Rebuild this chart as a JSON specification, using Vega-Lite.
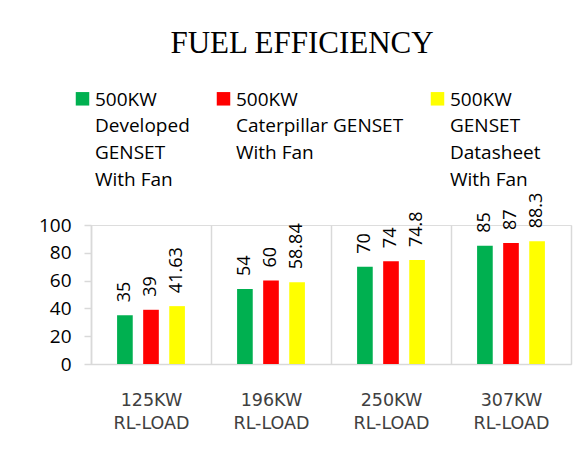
{
  "$schema": "https://vega.github.io/schema/vega-lite/v6.json",
  "width": 480,
  "height": 139,
  "autosize": {"type": "none"},
  "padding": {"left": 91, "top": 225, "right": 15, "bottom": 92},
  "background": "white",
  "title": {
    "text": "FUEL EFFICIENCY",
    "font": "Liberation Serif",
    "fontSize": 31,
    "fontWeight": "normal",
    "color": "#000000",
    "anchor": "middle",
    "frame": "group",
    "dx": -29,
    "offset": 36
  },
  "data": {
    "values": [
      {"load": "125KW RL-LOAD", "series": "500KW Developed GENSET With Fan", "value": 35, "label": "35"},
      {"load": "125KW RL-LOAD", "series": "500KW Caterpillar GENSET With Fan", "value": 39, "label": "39"},
      {"load": "125KW RL-LOAD", "series": "500KW GENSET Datasheet With Fan", "value": 41.63, "label": "41.63"},
      {"load": "196KW RL-LOAD", "series": "500KW Developed GENSET With Fan", "value": 54, "label": "54"},
      {"load": "196KW RL-LOAD", "series": "500KW Caterpillar GENSET With Fan", "value": 60, "label": "60"},
      {"load": "196KW RL-LOAD", "series": "500KW GENSET Datasheet With Fan", "value": 58.84, "label": "58.84"},
      {"load": "250KW RL-LOAD", "series": "500KW Developed GENSET With Fan", "value": 70, "label": "70"},
      {"load": "250KW RL-LOAD", "series": "500KW Caterpillar GENSET With Fan", "value": 74, "label": "74"},
      {"load": "250KW RL-LOAD", "series": "500KW GENSET Datasheet With Fan", "value": 74.8, "label": "74.8"},
      {"load": "307KW RL-LOAD", "series": "500KW Developed GENSET With Fan", "value": 85, "label": "85"},
      {"load": "307KW RL-LOAD", "series": "500KW Caterpillar GENSET With Fan", "value": 87, "label": "87"},
      {"load": "307KW RL-LOAD", "series": "500KW GENSET Datasheet With Fan", "value": 88.3, "label": "88.3"}
    ]
  },
  "encoding": {
    "x": {
      "field": "load",
      "type": "nominal",
      "sort": null,
      "scale": {"paddingInner": 0, "paddingOuter": 0},
      "axis": {
        "title": null,
        "labelAngle": 0,
        "labelExpr": "split(datum.label, ' ')",
        "labelFont": "DejaVu Sans",
        "labelFontSize": 17.5,
        "labelColor": "#404040",
        "labelLineHeight": 23,
        "labelPadding": 27,
        "labelBaseline": "top",
        "ticks": false,
        "tickBand": "extent",
        "grid": true,
        "gridColor": "#d9d9d9",
        "gridWidth": 1.5,
        "domainColor": "#d9d9d9",
        "domainWidth": 1.5
      }
    },
    "xOffset": {
      "field": "series",
      "type": "nominal",
      "sort": null,
      "scale": {"paddingInner": 0.4, "paddingOuter": 1.15}
    },
    "y": {
      "field": "value",
      "type": "quantitative",
      "scale": {"domain": [0, 100], "nice": false},
      "axis": {
        "title": null,
        "values": [0, 20, 40, 60, 80, 100],
        "grid": false,
        "labelFont": "Open Sans",
        "labelFontSize": 19,
        "labelColor": "#000000",
        "labelPadding": 13,
        "tickSize": 7,
        "tickColor": "#d9d9d9",
        "tickWidth": 1.5,
        "domainColor": "#d9d9d9",
        "domainWidth": 1.5
      }
    }
  },
  "layer": [
    {
      "mark": {"type": "bar"},
      "encoding": {
        "color": {
          "field": "series",
          "type": "nominal",
          "sort": null,
          "scale": {
            "domain": ["500KW Developed GENSET With Fan", "500KW Caterpillar GENSET With Fan", "500KW GENSET Datasheet With Fan"],
            "range": ["#00B050", "#FF0000", "#FFFF00"]
          },
          "legend": {
            "title": null,
            "orient": "none",
            "legendX": -18,
            "legendY": -129,
            "direction": "horizontal",
            "columns": 3,
            "columnPadding": 24,
            "padding": 0,
            "symbolType": "M-1,-2H1V0H-1Z",
            "symbolSize": 182,
            "symbolStrokeWidth": 0,
            "labelFont": "Open Sans",
            "labelFontSize": 19,
            "labelColor": "#000000",
            "labelBaseline": "alphabetic",
            "labelOffset": 3,
            "labelLimit": 400,
            "labelExpr": "datum.label === '500KW Developed GENSET With Fan' ? ['500KW', 'Developed', 'GENSET', 'With Fan'] : datum.label === '500KW Caterpillar GENSET With Fan' ? ['500KW', 'Caterpillar GENSET', 'With Fan', ' '] : ['500KW', 'GENSET', 'Datasheet', 'With Fan']",
            "encode": {"labels": {"update": {"lineHeight": {"value": 26.8}}}}
          }
        }
      }
    },
    {
      "mark": {
        "type": "text",
        "angle": 270,
        "align": "left",
        "baseline": "middle",
        "dx": 13,
        "font": "Open Sans",
        "fontSize": 18,
        "color": "#000000"
      },
      "encoding": {
        "text": {"field": "label", "type": "nominal"}
      }
    }
  ]
}
